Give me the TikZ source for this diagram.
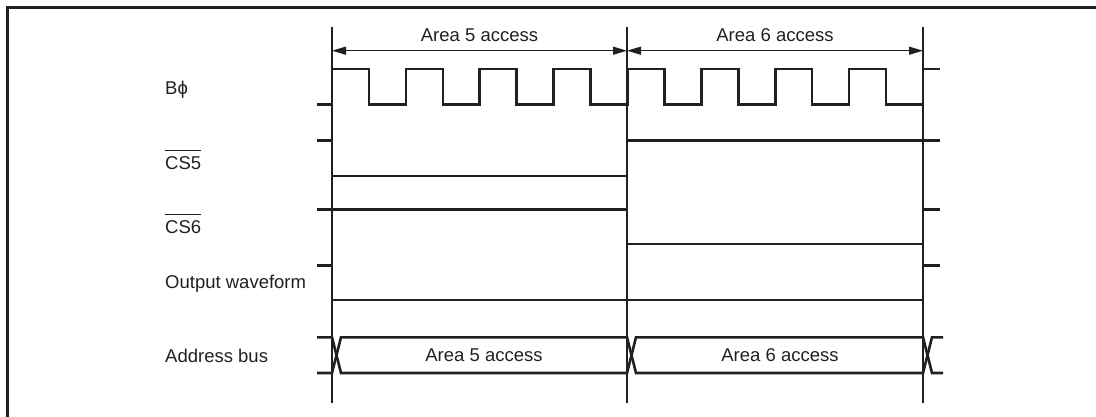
\documentclass[tikz,border=0pt]{standalone}
\usepackage{fontspec}
\setmainfont{Liberation Sans}
\usetikzlibrary{arrows.meta}
\definecolor{ink}{HTML}{231F20}
\newcommand{\ovl}[1]{\leavevmode\vbox{\hrule height 0.9pt\kern 5.5pt\hbox{#1}}}

\begin{document}
\begin{tikzpicture}[x=1pt,y=-1pt,>={Triangle[length=14pt,width=8pt]},
  sig/.style={line width=2.6pt,ink},
  mark line/.style={line width=1.2pt,ink},
  lbl/.style={anchor=base west,inner sep=0pt,text=ink,font=\fontsize{18.5}{22}\selectfont},
  txt/.style={inner sep=0pt,text=ink,font=\fontsize{18.5}{22}\selectfont}]
\useasboundingbox (0,0) rectangle (1096,416);
\draw[line width=2.6pt,ink] (1110,7.5) -- (7.5,7.5) -- (7.5,430);
% time marks
\foreach \n/\x in {1/332,2/627,3/923}{
  \coordinate (t\n) at (\x,26.7);
  \coordinate (b\n) at (\x,402.7);
  \coordinate (a\n) at (\x,50.7);
  \draw[mark line] (t\n) -- (b\n);
}
\draw[mark line,<->] (a1) -- (a2);
\draw[mark line,<->] (a2) -- (a3);
\node[txt] (area5) at (479.5,35) {Area 5 access};
\node[txt] (area6) at (775,35) {Area 6 access};
% signal names
\node[lbl] (bphi) at (165,94) {Bϕ};
\node[lbl] (cs5) at (165,169) {\ovl{CS5}};
\node[lbl] (cs6) at (165,233.4) {\ovl{CS6}};
\node[lbl] (outw) at (165,288.3) {Output waveform};
\node[lbl] (abus) at (165,362.7) {Address bus};
% waveforms
\draw[sig] (317,104.3) -| (332,69)
  foreach \k in {1,...,8}{ -| (332+73.875*\k-36.94,104.3) -| (332+73.875*\k,69) }
  -- (940,69);
\draw[sig] (317,140.7) -| (332,176) -| (627,140.7) -- (940,140.7);
\draw[sig] (317,209.3) -| (627,244) -| (923,209.3) -- (940,209.3);
\draw[sig] (317,265.7) -| (332,300) -| (923,265.7) -- (940,265.7);
\draw[sig] (317,337.3) -- (332,337.3) -- (341,373) -- (627,373) -- (636,337.3)
  -- (923,337.3) -- (932,373) -- (943,373);
\draw[sig] (317,373) -- (332,373) -- (341,337.3) -- (627,337.3) -- (636,373)
  -- (923,373) -- (932,337.3) -- (943,337.3);
\node[txt] (bus5) at (484,355) {Area 5 access};
\node[txt] (bus6) at (780,355) {Area 6 access};
\end{tikzpicture}
\end{document}
